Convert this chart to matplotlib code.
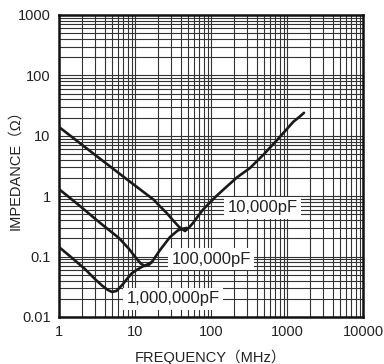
import numpy as np
import matplotlib.pyplot as plt
from matplotlib import ticker

plt.rcParams['font.family'] = ['Liberation Sans', 'Noto Sans CJK JP']

# curves (frequency MHz, impedance ohm)
f_10n = [1, 3, 8, 17.8, 21.3, 26, 31.6, 38, 45.5, 51, 58, 66, 78.5, 100, 120, 144, 220, 326, 500, 738, 1000, 1200, 1450, 1674]
z_10n = [14.0, 4.8, 1.86, 0.865, 0.68, 0.53, 0.40, 0.31, 0.265, 0.30, 0.36, 0.45, 0.60, 0.82, 1.03, 1.27, 2.05, 2.93, 5.0, 8.5, 13.0, 16.9, 20.5, 24.0]

f_100n = [1, 1.83, 3.36, 6.15, 8.3, 10.3, 12, 13.5, 15.2, 16.7, 21.3, 28.9, 36.7, 43, 48]
z_100n = [1.31, 0.71, 0.374, 0.203, 0.135, 0.095, 0.076, 0.070, 0.073, 0.0815, 0.128, 0.211, 0.272, 0.290, 0.298]

f_1u = [1, 1.5, 2.2, 3.0, 3.7, 4.4, 5.0, 5.7, 6.8, 8.0, 9.1, 10.5, 12.4, 14.5, 16.7]
z_1u = [0.144, 0.094, 0.062, 0.042, 0.033, 0.028, 0.026, 0.027, 0.034, 0.044, 0.053, 0.060, 0.068, 0.074, 0.0815]

x_ticks = [1, 10, 100, 1000, 10000]
x_labels = ['1', '10', '100', '1000', '10000']
y_ticks = [0.01, 0.1, 1, 10, 100, 1000]
y_labels = ['0.01', '0.1', '1', '10', '100', '1000']

fig = plt.figure(figsize=(3.84, 3.64), dpi=100)
ax = fig.add_axes([59/384, 47/364, 304/384, 302/364])

ax.set_xscale('log')
ax.set_yscale('log')
ax.set_xlim(1, 10000)
ax.set_ylim(0.01, 1000)

ax.xaxis.set_minor_locator(ticker.LogLocator(base=10, subs=np.arange(2, 10)))
ax.yaxis.set_minor_locator(ticker.LogLocator(base=10, subs=np.arange(2, 10)))
ax.xaxis.set_minor_formatter(ticker.NullFormatter())
ax.yaxis.set_minor_formatter(ticker.NullFormatter())
ax.set_xticks(x_ticks, x_labels)
ax.set_yticks(y_ticks, y_labels)
ax.tick_params(which='both', length=0, labelsize=10.5, pad=6, colors='#222222')
ax.grid(which='both', color='#333333', linewidth=0.8)
ax.set_axisbelow(True)
for s in ax.spines.values():
    s.set_linewidth(1.8)
    s.set_color('#111111')

for f, z in [(f_10n, z_10n), (f_100n, z_100n), (f_1u, z_1u)]:
    ax.plot(f, z, color='#1a1a1a', linewidth=1.9, zorder=3,
            solid_joinstyle='round', solid_capstyle='round')

box = dict(facecolor='white', edgecolor='none', pad=2.5)
ax.text(480, 0.64, '10,000pF', fontsize=12, ha='center', va='center', bbox=box, zorder=4, color='#222222')
ax.text(100, 0.091, '100,000pF', fontsize=12, ha='center', va='center', bbox=box, zorder=4, color='#222222')
ax.text(31.6, 0.020, '1,000,000pF', fontsize=12, ha='center', va='center', bbox=box, zorder=4, color='#222222')

ax.set_xlabel('FREQUENCY（MHz）', fontsize=10.5, color='#222222')
ax.set_ylabel('IMPEDANCE（Ω）', fontsize=10.5, color='#222222')
ax.xaxis.set_label_coords(0.5, -0.108)
ax.yaxis.set_label_coords(-0.12, 0.5)

fig.savefig('out.png', dpi=100)
